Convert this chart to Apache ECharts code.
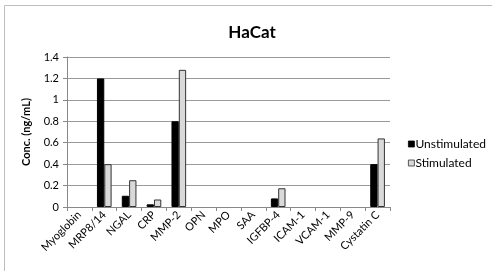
<!DOCTYPE html>
<html>
<head>
<meta charset="UTF-8">
<title>HaCat</title>
<script src="https://cdn.jsdelivr.net/npm/echarts@6/dist/echarts.min.js"></script>
<style>
html, body { margin: 0; padding: 0; background: #fff; }
#chart { width: 492px; height: 271px; }
</style>
</head>
<body>
<div id="chart"></div>
<script>
var categories = ['Myoglobin', 'MRP8/14', 'NGAL', 'CRP', 'MMP-2', 'OPN', 'MPO', 'SAA', 'IGFBP-4', 'ICAM-1', 'VCAM-1', 'MMP-9', 'Cystatin C'];
var unstimulated = [0, 1.2, 0.105, 0.025, 0.8, 0, 0, 0, 0.08, 0, 0, 0, 0.4];
var stimulated = [0, 0.4, 0.25, 0.07, 1.28, 0, 0, 0, 0.175, 0, 0, 0, 0.64];

// zero values are not drawn as bars in the original
function noZero(arr) {
    return arr.map(function (v) { return v === 0 ? '-' : v; });
}

var font = 'Lato';
var chart = echarts.init(document.getElementById('chart'));
chart.setOption({
    animation: false,
    textStyle: { fontFamily: font },
    graphic: [{
        type: 'rect',
        shape: { x: 4.5, y: 5.5, width: 600, height: 400 },
        style: { fill: 'none', stroke: '#bdbdbd', lineWidth: 1 },
        silent: true
    }],
    title: {
        text: 'HaCat',
        left: 247,
        top: 19,
        textAlign: 'center',
        textStyle: { fontFamily: font, fontSize: 17, fontWeight: 'bold', color: '#000' }
    },
    legend: {
        orient: 'vertical',
        left: 403,
        top: 133,
        itemWidth: 6,
        itemHeight: 6,
        itemGap: 7,
        icon: 'rect',
        itemStyle: { borderWidth: 0.8 },
        textStyle: { fontFamily: font, fontSize: 12, color: '#000', padding: [0, 0, 0, -4] },
        data: ['Unstimulated', 'Stimulated']
    },
    grid: { left: 67, top: 57, width: 323, height: 150, containLabel: false },
    xAxis: {
        type: 'category',
        data: categories,
        axisLine: { lineStyle: { color: '#888', width: 1 } },
        axisTick: { show: true, alignWithLabel: false, length: 4, lineStyle: { color: '#888' } },
        axisLabel: { rotate: 45, interval: 0, fontSize: 11, color: '#000', margin: 6 }
    },
    yAxis: {
        type: 'value',
        min: 0,
        max: 1.4,
        interval: 0.2,
        name: 'Conc. (ng/mL)',
        nameLocation: 'middle',
        nameGap: 35,
        nameTextStyle: { fontFamily: font, fontSize: 11, fontWeight: 'bold', color: '#000' },
        axisLine: { show: true, lineStyle: { color: '#888' } },
        axisTick: { show: true, length: 4, inside: false, lineStyle: { color: '#888' } },
        axisLabel: { fontSize: 11, color: '#000', margin: 8, formatter: function (v) { return String(Math.round(v * 10) / 10); } },
        splitLine: { lineStyle: { color: '#9a9a9a', width: 1 } }
    },
    series: [{
        name: 'Unstimulated',
        type: 'bar',
        data: noZero(unstimulated),
        barGap: '0%',
        barCategoryGap: '41%',
        itemStyle: { color: '#000', borderColor: '#000', borderWidth: 1 }
    }, {
        name: 'Stimulated',
        type: 'bar',
        data: noZero(stimulated),
        itemStyle: { color: '#d9d9d9', borderColor: '#333', borderWidth: 1 }
    }]
});
</script>
</body>
</html>
